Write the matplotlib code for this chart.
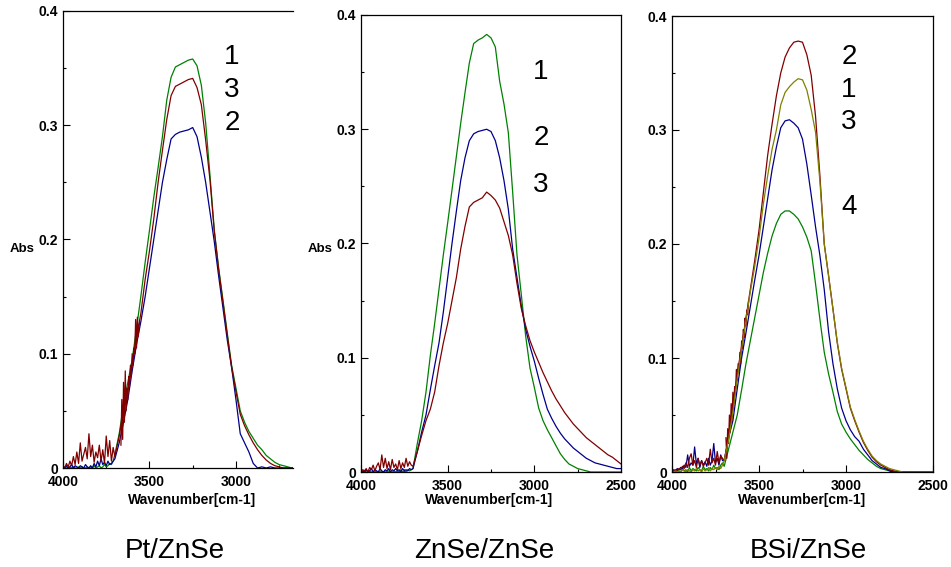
import matplotlib
matplotlib.use("Agg")
import matplotlib.pyplot as plt
from matplotlib.ticker import MultipleLocator, FuncFormatter

plt.rcParams['font.family'] = ['Liberation Sans', 'DejaVu Sans']
plt.rcParams['font.weight'] = 'bold'

# wavenumber grids [cm-1]: noisy baseline part and main band
wn_noise = [4000, 3990, 3980, 3970, 3960, 3950, 3940, 3930, 3920, 3910,
            3900, 3890, 3880, 3870, 3860, 3850, 3840, 3830, 3820, 3810,
            3800, 3790, 3780, 3770, 3760, 3750, 3740, 3730, 3720, 3710]
wn_main = [3700, 3675, 3650, 3625, 3600, 3575, 3550,
           3525, 3500, 3475, 3450, 3425, 3400, 3375,
           3350, 3325, 3300, 3275, 3250, 3225, 3200,
           3175, 3150, 3125, 3100, 3075, 3050, 3025,
           3000, 2975, 2950, 2925, 2900, 2875, 2850,
           2825, 2800, 2775, 2750, 2725, 2700, 2675,
           2650, 2625, 2600, 2575, 2550, 2525, 2500]

# ---- Pt/ZnSe ----
pt_green_noise = [0.0, 0.001, 0.0, 0.0, 0.001, 0.0, 0.001, 0.0, 0.0, 0.001,
                  0.0, 0.001, 0.0, 0.0, 0.001, 0.0, 0.001, 0.0, 0.002, 0.0,
                  0.001, 0.002, 0.0, 0.001, 0.003, 0.001, 0.002, 0.004, 0.003, 0.006]
pt_green = [0.012, 0.03, 0.055, 0.075, 0.095, 0.122, 0.15,
            0.18, 0.208, 0.237, 0.263, 0.29, 0.322, 0.342,
            0.351, 0.353, 0.355, 0.357, 0.358, 0.352, 0.335,
            0.302, 0.256, 0.208, 0.175, 0.147, 0.118, 0.09,
            0.07, 0.05, 0.04, 0.032, 0.026, 0.02, 0.016,
            0.011, 0.008, 0.005, 0.003, 0.002, 0.001, 0.0,
            0.0, 0.0, 0.0, 0.0, 0.0, 0.0, 0.0]
pt_red_noise = [0.002, 0.0, 0.004, 0.001, 0.006, 0.002, 0.01, 0.003, 0.014, 0.004,
                0.022, 0.006, 0.012, 0.018, 0.008, 0.03, 0.01, 0.02, 0.005, 0.014,
                0.009, 0.02, 0.006, 0.016, 0.004, 0.028, 0.01, 0.024, 0.006, 0.018]
pt_red = [0.01, 0.028, 0.05, 0.068, 0.09, 0.115, 0.135,
          0.165, 0.19, 0.218, 0.25, 0.278, 0.305, 0.326,
          0.334, 0.336, 0.338, 0.34, 0.341, 0.333, 0.318,
          0.287, 0.252, 0.207, 0.174, 0.145, 0.116, 0.088,
          0.067, 0.047, 0.037, 0.029, 0.022, 0.016, 0.011,
          0.007, 0.004, 0.002, 0.001, 0.0, 0.0, 0.0,
          0.0, 0.0, 0.0, 0.0, 0.0, 0.0, 0.0]
# spiky stretch on the rising edge of the red trace
pt_red_burst_wn = [3665, 3660, 3655, 3650, 3645, 3640, 3635, 3630, 3625, 3620, 3615, 3610,
                   3605, 3600, 3595, 3590, 3585, 3580, 3575, 3570, 3565, 3560, 3555]
pt_red_burst = [0.02, 0.06, 0.025, 0.075, 0.04, 0.085, 0.05, 0.07, 0.06, 0.08, 0.072, 0.09,
                0.08, 0.1, 0.09, 0.105, 0.1, 0.13, 0.105, 0.132, 0.115, 0.125, 0.128]
pt_blue_noise = [0.001, 0.0, 0.002, 0.0, 0.001, 0.003, 0.0, 0.002, 0.001, 0.0,
                 0.002, 0.001, 0.0, 0.003, 0.001, 0.0, 0.002, 0.0, 0.004, 0.001,
                 0.006, 0.002, 0.008, 0.003, 0.005, 0.002, 0.006, 0.003, 0.004, 0.006]
pt_blue = [0.008, 0.022, 0.04, 0.06, 0.085, 0.108, 0.128,
           0.15, 0.175, 0.2, 0.225, 0.25, 0.27, 0.288,
           0.292, 0.294, 0.295, 0.296, 0.298, 0.29, 0.272,
           0.25, 0.224, 0.198, 0.168, 0.14, 0.112, 0.088,
           0.06, 0.03, 0.022, 0.014, 0.004, 0.0, 0.001,
           0.0, 0.001, 0.0, 0.0, 0.0, 0.0, 0.0,
           0.0, 0.0, 0.0, 0.0, 0.0, 0.0, 0.0]

# ---- ZnSe/ZnSe ----
zn_green_noise = [0.0, 0.0, 0.001, 0.0, 0.0, 0.001, 0.0, 0.0, 0.001, 0.0,
                  0.0, 0.001, 0.0, 0.0, 0.001, 0.0, 0.001, 0.0, 0.0, 0.001,
                  0.0, 0.001, 0.0, 0.002, 0.0, 0.001, 0.0, 0.002, 0.001, 0.002]
zn_green = [0.003, 0.025, 0.045, 0.07, 0.102, 0.13, 0.16,
            0.19, 0.218, 0.247, 0.276, 0.305, 0.332, 0.358,
            0.375, 0.378, 0.38, 0.383, 0.38, 0.372, 0.342,
            0.322, 0.297, 0.245, 0.19, 0.155, 0.119, 0.091,
            0.074, 0.056, 0.045, 0.037, 0.03, 0.023, 0.016,
            0.011, 0.007, 0.005, 0.003, 0.002, 0.001, 0.0,
            0.0, 0.0, 0.0, 0.0, 0.0, 0.0, 0.0]
zn_blue_noise = [0.0, 0.001, 0.0, 0.002, 0.0, 0.001, 0.003, 0.0, 0.002, 0.001,
                 0.0, 0.003, 0.001, 0.0, 0.002, 0.001, 0.003, 0.0, 0.002, 0.001,
                 0.003, 0.001, 0.002, 0.0, 0.003, 0.001, 0.002, 0.001, 0.003, 0.002]
zn_blue = [0.003, 0.018, 0.035, 0.05, 0.072, 0.093, 0.113,
           0.14, 0.17, 0.2, 0.228, 0.255, 0.275, 0.29,
           0.296, 0.298, 0.299, 0.3, 0.298, 0.29, 0.275,
           0.255, 0.23, 0.195, 0.17, 0.145, 0.125, 0.11,
           0.097, 0.082, 0.068, 0.055, 0.047, 0.04, 0.034,
           0.029, 0.025, 0.021, 0.018, 0.015, 0.012, 0.01,
           0.008, 0.007, 0.006, 0.005, 0.004, 0.003, 0.003]
zn_red_noise = [0.0, 0.002, 0.001, 0.003, 0.0, 0.004, 0.002, 0.006, 0.001, 0.005,
                0.008, 0.002, 0.015, 0.004, 0.012, 0.003, 0.009, 0.002, 0.011, 0.004,
                0.007, 0.002, 0.01, 0.003, 0.008, 0.004, 0.012, 0.005, 0.009, 0.006]
zn_red = [0.005, 0.018, 0.032, 0.045, 0.055, 0.07, 0.093,
          0.113, 0.13, 0.15, 0.17, 0.195, 0.215, 0.232,
          0.236, 0.238, 0.24, 0.245, 0.242, 0.238, 0.231,
          0.219, 0.207, 0.19, 0.165, 0.143, 0.128, 0.115,
          0.105, 0.096, 0.087, 0.079, 0.071, 0.064, 0.058,
          0.052, 0.047, 0.042, 0.038, 0.034, 0.03, 0.027,
          0.024, 0.021, 0.018, 0.015, 0.013, 0.01, 0.007]

# ---- BSi/ZnSe ----
bs_green_noise = [0.0, 0.001, 0.0, 0.002, 0.001, 0.0, 0.003, 0.001, 0.002, 0.0,
                  0.004, 0.001, 0.003, 0.002, 0.001, 0.004, 0.002, 0.001, 0.005, 0.002,
                  0.003, 0.001, 0.004, 0.002, 0.006, 0.003, 0.004, 0.002, 0.006, 0.008]
bs_green = [0.005, 0.02, 0.035, 0.05, 0.072, 0.095, 0.115,
            0.135, 0.155, 0.175, 0.192, 0.207, 0.218, 0.226,
            0.229, 0.229, 0.226, 0.222, 0.215, 0.206, 0.194,
            0.165, 0.134, 0.105, 0.086, 0.07, 0.053, 0.042,
            0.035, 0.029, 0.024, 0.019, 0.015, 0.011, 0.008,
            0.005, 0.003, 0.002, 0.001, 0.0, 0.0, 0.0,
            0.0, 0.0, 0.0, 0.0, 0.0, 0.0, 0.0]
bs_blue_noise = [0.0, 0.002, 0.001, 0.003, 0.002, 0.004, 0.003, 0.006, 0.004, 0.015,
                 0.005, 0.008, 0.006, 0.022, 0.007, 0.012, 0.004, 0.01, 0.006, 0.009,
                 0.005, 0.012, 0.006, 0.01, 0.025, 0.008, 0.012, 0.006, 0.015, 0.01]
bs_blue = [0.01, 0.03, 0.045, 0.073, 0.1, 0.122, 0.145,
           0.168, 0.19, 0.215, 0.24, 0.265, 0.285, 0.302,
           0.308, 0.309, 0.306, 0.302, 0.292, 0.27, 0.243,
           0.215, 0.19, 0.16, 0.123, 0.095, 0.073, 0.056,
           0.045, 0.037, 0.031, 0.027, 0.02, 0.015, 0.01,
           0.007, 0.004, 0.003, 0.001, 0.0, 0.0, 0.0,
           0.0, 0.0, 0.0, 0.0, 0.0, 0.0, 0.0]
bs_red_noise = [0.001, 0.0, 0.002, 0.001, 0.003, 0.002, 0.005, 0.003, 0.008, 0.004,
                0.012, 0.016, 0.006, 0.01, 0.004, 0.012, 0.006, 0.01, 0.005, 0.008,
                0.012, 0.006, 0.02, 0.008, 0.012, 0.006, 0.018, 0.008, 0.014, 0.012]
bs_red = [0.01, 0.03, 0.055, 0.085, 0.11, 0.135, 0.16,
          0.185, 0.212, 0.245, 0.278, 0.305, 0.33, 0.35,
          0.364, 0.372, 0.377, 0.378, 0.377, 0.366, 0.348,
          0.312, 0.26, 0.2, 0.172, 0.143, 0.113, 0.09,
          0.073, 0.056, 0.045, 0.035, 0.026, 0.019, 0.013,
          0.009, 0.006, 0.004, 0.002, 0.001, 0.0, 0.0,
          0.0, 0.0, 0.0, 0.0, 0.0, 0.0, 0.0]
bs_red_burst_wn = [3690, 3685, 3680, 3675, 3670, 3665, 3660, 3655, 3650, 3645, 3640, 3635, 3630,
                   3625, 3620, 3615, 3610, 3605, 3600, 3595, 3590, 3585, 3580, 3575, 3570, 3565, 3560]
bs_red_burst = [0.03, 0.012, 0.038, 0.025, 0.05, 0.035, 0.06, 0.045, 0.07, 0.058, 0.075, 0.07, 0.09,
                0.08, 0.095, 0.088, 0.105, 0.095, 0.115, 0.108, 0.125, 0.118, 0.135, 0.128, 0.142, 0.138, 0.15]
bs_olive_noise = [0.0, 0.0, 0.001, 0.0, 0.001, 0.0, 0.002, 0.001, 0.0, 0.002,
                  0.001, 0.0, 0.002, 0.001, 0.003, 0.001, 0.002, 0.0, 0.003, 0.001,
                  0.002, 0.004, 0.001, 0.003, 0.002, 0.004, 0.002, 0.005, 0.003, 0.006]
bs_olive = [0.01, 0.028, 0.053, 0.082, 0.108, 0.133, 0.158,
            0.18, 0.205, 0.235, 0.26, 0.283, 0.3, 0.322,
            0.333, 0.338, 0.342, 0.345, 0.344, 0.335, 0.318,
            0.298, 0.255, 0.2, 0.172, 0.143, 0.114, 0.091,
            0.074, 0.057, 0.046, 0.036, 0.027, 0.02, 0.014,
            0.01, 0.007, 0.005, 0.003, 0.002, 0.001, 0.0,
            0.0, 0.0, 0.0, 0.0, 0.0, 0.0, 0.0]

GREEN = '#008000'
RED = '#800000'
BLUE = '#00008b'
OLIVE = '#808000'

W, H = 951, 567


def spectrum(ax, noise, main, color):
    ax.plot(wn_noise + wn_main, noise + main, color=color, lw=0.9)


def setup(ax, x_end, right_spine=True):
    ax.set_xlim(4000, x_end)
    ax.set_ylim(0, 0.4)
    ax.xaxis.set_major_locator(MultipleLocator(500))
    ax.xaxis.set_minor_locator(MultipleLocator(250))
    ax.yaxis.set_major_locator(MultipleLocator(0.1))
    ax.yaxis.set_minor_locator(MultipleLocator(0.05))
    ax.xaxis.set_major_formatter(FuncFormatter(lambda v, p: f'{v:.0f}'))
    ax.yaxis.set_major_formatter(FuncFormatter(lambda v, p: '0' if abs(v) < 1e-9 else f'{v:.1f}'))
    ax.tick_params(which='both', direction='in', labelsize=10, width=0.8)
    ax.tick_params(which='major', length=5)
    ax.tick_params(which='minor', length=2.5)
    ax.tick_params(axis='x', pad=5)
    ax.tick_params(axis='y', pad=3.5)
    for s in ax.spines.values():
        s.set_linewidth(0.9)
    ax.spines['right'].set_visible(right_spine)


def px_axes(l, t, r, b):
    return fig.add_axes([l / W, 1 - b / H, (r - l) / W, (b - t) / H])


def px_text(x, y, s, **kw):
    fig.text(x / W, 1 - y / H, s, ha='center', va='center', **kw)


fig = plt.figure(figsize=(W / 100, H / 100), dpi=100)

# Pt/ZnSe
ax1 = px_axes(63, 11, 293, 468)
spectrum(ax1, pt_green_noise, pt_green, GREEN)
spectrum(ax1, pt_blue_noise, pt_blue, BLUE)
spectrum(ax1, pt_red_noise, pt_red, RED)
ax1.plot(pt_red_burst_wn, pt_red_burst, color=RED, lw=0.9)
setup(ax1, 2670, right_spine=False)

# ZnSe/ZnSe
ax2 = px_axes(361, 15, 621, 472)
spectrum(ax2, zn_green_noise, zn_green, GREEN)
spectrum(ax2, zn_blue_noise, zn_blue, BLUE)
spectrum(ax2, zn_red_noise, zn_red, RED)
setup(ax2, 2500)

# BSi/ZnSe
ax3 = px_axes(672, 16, 933, 472)
spectrum(ax3, bs_green_noise, bs_green, GREEN)
spectrum(ax3, bs_blue_noise, bs_blue, BLUE)
spectrum(ax3, bs_red_noise, bs_red, RED)
ax3.plot(bs_red_burst_wn, bs_red_burst, color=RED, lw=0.9)
spectrum(ax3, bs_olive_noise, bs_olive, OLIVE)
setup(ax3, 2500)

# axis titles
for x in (22, 320):
    px_text(x, 249, 'Abs', fontsize=9.5)
for x in (192, 489, 802):
    px_text(x, 500, 'Wavenumber[cm-1]', fontsize=10)

# curve numbers
num_kw = dict(fontsize=20, fontweight='normal')
for s, y in (('1', 57), ('3', 90), ('2', 123)):
    px_text(232, y, s, **num_kw)
for s, y in (('1', 72), ('2', 138), ('3', 185)):
    px_text(541, y, s, **num_kw)
for s, y in (('2', 57), ('1', 90), ('3', 122), ('4', 207)):
    px_text(849, y, s, **num_kw)

# sample captions
for x, s in ((175, 'Pt/ZnSe'), (484, 'ZnSe/ZnSe'), (808, 'BSi/ZnSe')):
    px_text(x, 551, s, fontsize=20, fontweight='normal')

fig.savefig('out.png', dpi=100)
